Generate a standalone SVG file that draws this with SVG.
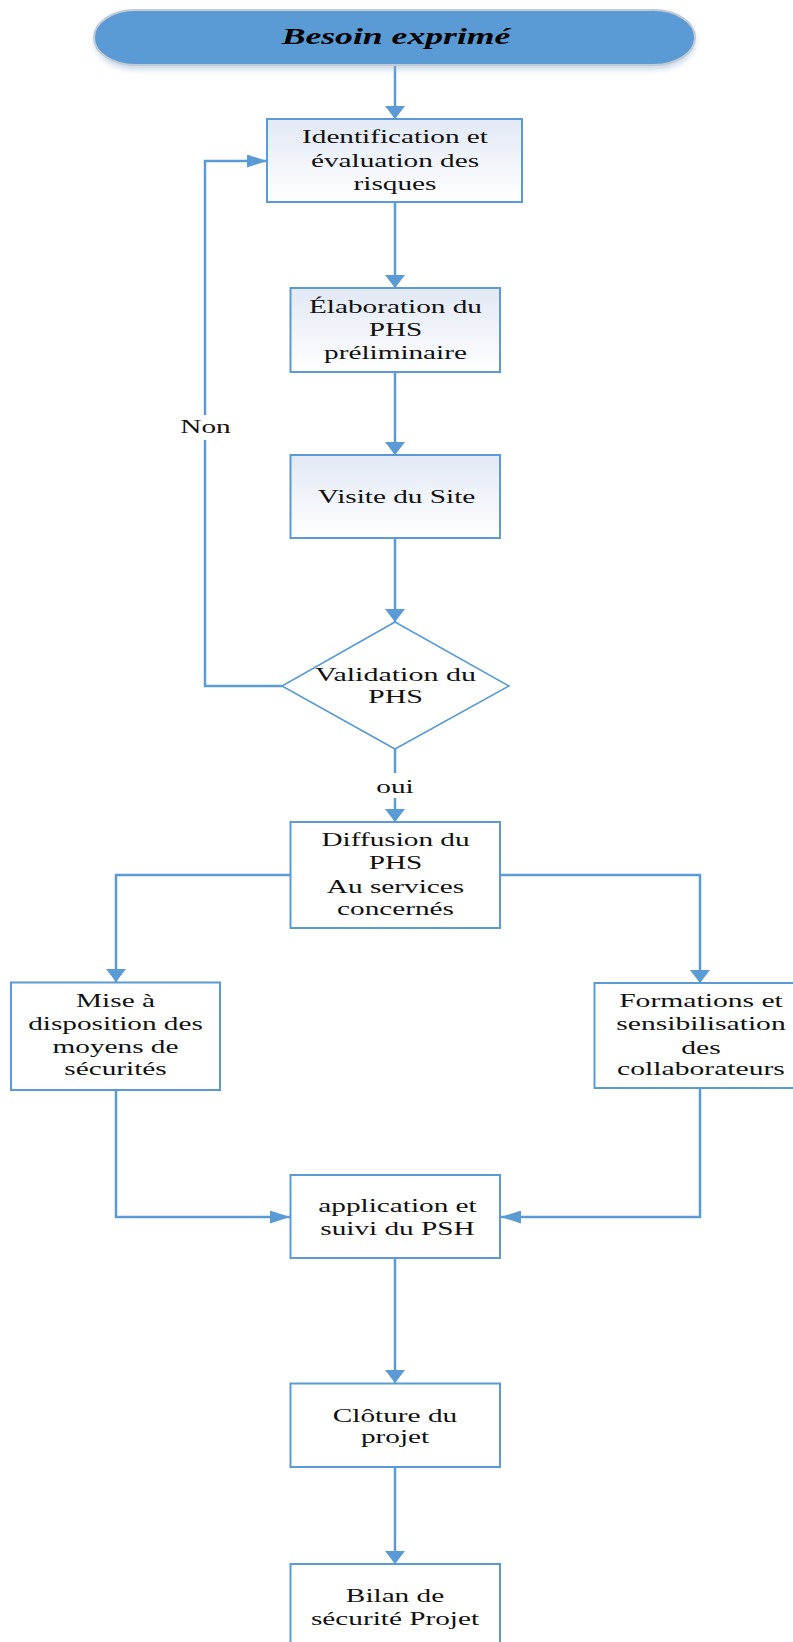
<svg xmlns="http://www.w3.org/2000/svg" width="793" height="1642" viewBox="0 0 793 1642">
  <style>
    .box { stroke: #5b9bd5; stroke-width: 2; }
    .plain { fill: #ffffff; }
    .shaded { fill: url(#boxFill); }
    .wire { fill: none; stroke: #5b9bd5; stroke-width: 2.5; }
    .lbl { font-family: "Liberation Serif", "Times New Roman", serif; font-size: 19px; fill: #111111; text-anchor: middle; }
    .title { font-family: "Liberation Serif", "Times New Roman", serif; font-size: 23px; font-weight: bold; font-style: italic; fill: #000000; text-anchor: middle; }
  </style>
  <defs>
    <linearGradient id="boxFill" x1="0" y1="0" x2="0" y2="1">
      <stop offset="0" stop-color="#e2e9f5"/>
      <stop offset="1" stop-color="#ffffff"/>
    </linearGradient>
    <filter id="soft" x="-10%" y="-30%" width="120%" height="180%">
      <feGaussianBlur stdDeviation="3"/>
    </filter>
    <!-- downward heads are wide and short, sideways heads long and thin -->
    <marker id="headV" markerUnits="userSpaceOnUse" viewBox="0 0 13 20" markerWidth="13" markerHeight="20" refX="13" refY="10" orient="auto">
      <path d="M0,0 L13,10 L0,20 Z" fill="#5b9bd5"/>
    </marker>
    <marker id="headH" markerUnits="userSpaceOnUse" viewBox="0 0 20 13" markerWidth="20" markerHeight="13" refX="20" refY="6.5" orient="auto">
      <path d="M0,0 L20,6.5 L0,13 Z" fill="#5b9bd5"/>
    </marker>
  </defs>

  <rect width="793" height="1642" fill="#ffffff"/>

  <!-- connectors -->
  <g id="connectors">
    <path class="wire" d="M395,65 V119" marker-end="url(#headV)"/>
    <path class="wire" d="M395,202 V288" marker-end="url(#headV)"/>
    <path class="wire" d="M395,372 V455" marker-end="url(#headV)"/>
    <path class="wire" d="M395,538 V622" marker-end="url(#headV)"/>
    <path class="wire" d="M395,749 V822" marker-end="url(#headV)"/>
    <path class="wire" d="M282,686 H205 V161 H267" marker-end="url(#headH)"/>
    <path class="wire" d="M291,875 H116 V982" marker-end="url(#headV)"/>
    <path class="wire" d="M500,875 H700 V983" marker-end="url(#headV)"/>
    <path class="wire" d="M116,1090 V1217 H290" marker-end="url(#headH)"/>
    <path class="wire" d="M700,1088 V1217 H501" marker-end="url(#headH)"/>
    <path class="wire" d="M395,1258 V1383" marker-end="url(#headV)"/>
    <path class="wire" d="M395,1467 V1564" marker-end="url(#headV)"/>
    <g id="label-non">
      <rect x="180" y="415" width="50" height="25" fill="#ffffff"/>
      <g transform="translate(205.5 0) scale(1.54 1)"><text class="lbl" x="0" y="433">Non</text></g>
    </g>
    <g id="label-oui">
      <rect x="375" y="773" width="40" height="25" fill="#ffffff"/>
      <g transform="translate(395 0) scale(1.54 1)"><text class="lbl" x="0" y="793">oui</text></g>
    </g>
  </g>

  <!-- start terminal -->
  <g id="besoin">
    <rect x="95" y="14" width="600" height="55" rx="41" ry="27.5" fill="#8fb0d4" opacity="0.55" filter="url(#soft)"/>
    <rect x="94" y="10" width="601" height="55" rx="41" ry="27.5" fill="#5b9bd5" stroke="#c3cad3" stroke-width="2"/>
    <g transform="translate(396 0) scale(1.55 1)"><text class="title" x="0" y="44">Besoin exprimé</text></g>
  </g>

  <g id="identification">
    <rect class="box shaded" x="267" y="119" width="255" height="83"/>
    <g transform="translate(395 0) scale(1.54 1)">
      <text class="lbl" x="0" y="143">Identification et</text>
      <text class="lbl" x="0" y="167">évaluation des</text>
      <text class="lbl" x="0" y="190">risques</text>
    </g>
  </g>

  <g id="elaboration">
    <rect class="box shaded" x="290.5" y="288" width="209.5" height="84"/>
    <g transform="translate(395.5 0) scale(1.54 1)">
      <text class="lbl" x="0" y="313">Élaboration du</text>
      <text class="lbl" x="0" y="336">PHS</text>
      <text class="lbl" x="0" y="359">préliminaire</text>
    </g>
  </g>

  <g id="visite">
    <rect class="box shaded" x="290.5" y="455" width="209.5" height="83"/>
    <g transform="translate(396.5 0) scale(1.54 1)">
      <text class="lbl" x="0" y="503">Visite du Site</text>
    </g>
  </g>

  <g id="validation">
    <polygon points="395,622 509,686 395,749 282,686" fill="#ffffff" stroke="#5b9bd5" stroke-width="1.6"/>
    <g transform="translate(395.5 0) scale(1.58 1)">
      <text class="lbl" x="0" y="681">Validation du</text>
      <text class="lbl" x="0" y="703">PHS</text>
    </g>
  </g>

  <g id="diffusion">
    <rect class="box plain" x="290.5" y="822" width="209.5" height="106"/>
    <g transform="translate(395.5 0) scale(1.54 1)">
      <text class="lbl" x="0" y="846">Diffusion du</text>
      <text class="lbl" x="0" y="869">PHS</text>
      <text class="lbl" x="0" y="893">Au services</text>
      <text class="lbl" x="0" y="915">concernés</text>
    </g>
  </g>

  <g id="mise-a-disposition">
    <rect class="box plain" x="11" y="982.5" width="209" height="107.5"/>
    <g transform="translate(115.5 0) scale(1.54 1)">
      <text class="lbl" x="0" y="1007">Mise à</text>
      <text class="lbl" x="0" y="1030">disposition des</text>
      <text class="lbl" x="0" y="1053">moyens de</text>
      <text class="lbl" x="0" y="1075">sécurités</text>
    </g>
  </g>

  <g id="formations">
    <rect class="box plain" x="594.5" y="983" width="210" height="105"/>
    <g transform="translate(701 0) scale(1.56 1)">
      <text class="lbl" x="0" y="1007">Formations et</text>
      <text class="lbl" x="0" y="1030">sensibilisation</text>
      <text class="lbl" x="0" y="1054">des</text>
      <text class="lbl" x="0" y="1075">collaborateurs</text>
    </g>
  </g>

  <g id="application">
    <rect class="box plain" x="290.5" y="1175" width="209.5" height="83"/>
    <g transform="translate(397.5 0) scale(1.54 1)">
      <text class="lbl" x="0" y="1212">application et</text>
      <text class="lbl" x="0" y="1235">suivi du PSH</text>
    </g>
  </g>

  <g id="cloture">
    <rect class="box plain" x="290.5" y="1383.5" width="209.5" height="83.5"/>
    <g transform="translate(395 0) scale(1.54 1)">
      <text class="lbl" x="0" y="1422">Clôture du</text>
      <text class="lbl" x="0" y="1443">projet</text>
    </g>
  </g>

  <g id="bilan">
    <rect class="box plain" x="290.5" y="1564" width="209.5" height="100"/>
    <g transform="translate(395 0) scale(1.54 1)">
      <text class="lbl" x="0" y="1602">Bilan de</text>
      <text class="lbl" x="0" y="1625">sécurité Projet</text>
    </g>
  </g>
</svg>
